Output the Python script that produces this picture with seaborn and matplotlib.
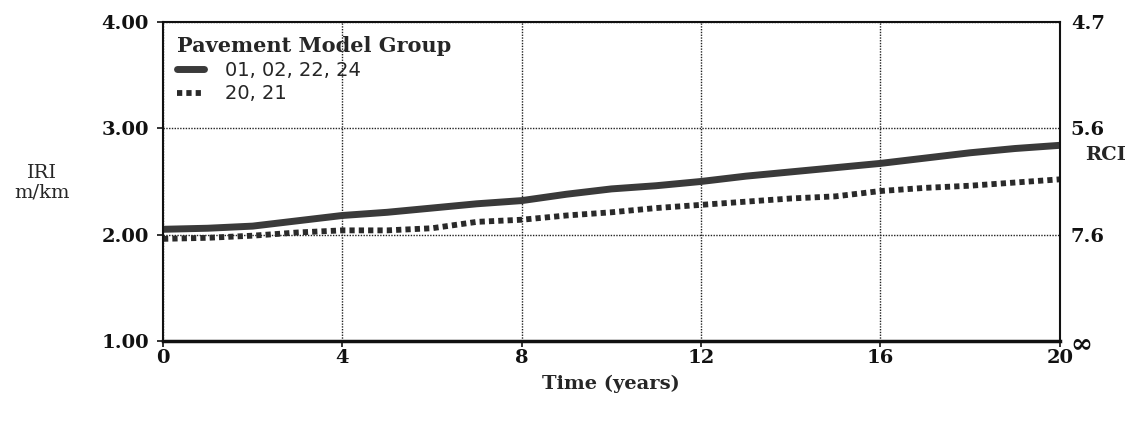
import matplotlib
matplotlib.use("Agg")
import matplotlib.pyplot as plt
import seaborn as sns
import pandas as pd

years = list(range(0, 21))
group_a = [2.05, 2.06, 2.08, 2.13, 2.18, 2.21, 2.25, 2.29, 2.32, 2.38, 2.43,
           2.46, 2.50, 2.55, 2.59, 2.63, 2.67, 2.72, 2.77, 2.81, 2.84]
group_b = [1.96, 1.97, 1.99, 2.02, 2.04, 2.04, 2.06, 2.12, 2.14, 2.18, 2.21,
           2.25, 2.28, 2.31, 2.34, 2.36, 2.41, 2.44, 2.46, 2.49, 2.52]
series_names = ["01, 02, 22, 24", "20, 21"]
x_ticks = [0, 4, 8, 12, 16, 20]
y_ticks = [1.0, 2.0, 3.0, 4.0]
y_tick_labels = ["1.00", "2.00", "3.00", "4.00"]
rci_labels = ["\u221e", "7.6", "5.6", "4.7"]

sns.set_theme(style="white")
plt.rcParams["font.family"] = ["DejaVu Serif", "DejaVu Sans"]

fig = plt.figure(figsize=(11.28, 4.24), dpi=100)
ax = fig.add_axes([0.1445, 0.196, 0.795, 0.752])

df_a = pd.DataFrame({"Time": years, "IRI": group_a})
df_b = pd.DataFrame({"Time": years, "IRI": group_b})
sns.lineplot(data=df_a, x="Time", y="IRI", ax=ax, color="#3a3a3a",
             linewidth=5.0, label=series_names[0])
sns.lineplot(data=df_b, x="Time", y="IRI", ax=ax, color="#2a2a2a",
             linewidth=4.2, linestyle=(0, (0.9, 0.7)), label=series_names[1])

ax.set_xlim(0, 20)
ax.set_ylim(1, 4)
ax.set_xticks(x_ticks)
ax.set_xticklabels([str(t) for t in x_ticks], fontsize=14, fontweight="bold")
ax.set_yticks(y_ticks)
ax.set_yticklabels(y_tick_labels, fontsize=14, fontweight="bold")
ax.grid(True, color="#222222", linestyle=(0, (1, 1)), linewidth=1.0)
for side in ["left", "right", "top"]:
    ax.spines[side].set_color("#111111")
    ax.spines[side].set_linewidth(1.5)
ax.spines["bottom"].set_color("#111111")
ax.spines["bottom"].set_linewidth(2.5)
ax.tick_params(axis="both", which="both", length=4, width=1.2,
               direction="out", colors="#111111")
ax.tick_params(axis="y", left=True, pad=6)
ax.tick_params(axis="x", bottom=True, pad=2)
ax.set_xlabel("")
ax.set_ylabel("")

ax2 = ax.twinx()
ax2.set_ylim(1, 4)
ax2.set_yticks(y_ticks)
ax2.set_yticklabels(rci_labels, fontsize=14, fontweight="bold")
ax2.get_yticklabels()[0].set_fontsize(19)
ax2.tick_params(axis="y", length=0, pad=8, colors="#111111")
ax2.grid(False)
for s in ax2.spines.values():
    s.set_visible(False)

leg = ax.legend(title="Pavement Model Group", loc="upper left",
                frameon=False, handlelength=1.4, handletextpad=1.1,
                borderaxespad=0.3, labelspacing=0.25, alignment="left",
                prop={"family": "DejaVu Sans", "size": 14})
leg.get_title().set_fontsize(15)
leg.get_title().set_fontweight("bold")
leg.get_title().set_family("DejaVu Serif")

fig.text(42 / 1128, 1 - 183 / 424, "IRI\nm/km", ha="center", va="center",
         fontsize=14, linespacing=1.1)
fig.text(1106 / 1128, 1 - 155 / 424, "RCI", ha="center", va="center",
         fontsize=14, fontweight="bold")
fig.text(611 / 1128, 1 - 384 / 424, "Time (years)", ha="center",
         va="center", fontsize=14, fontweight="bold")

fig.savefig("out.png", dpi=100, facecolor="white")
